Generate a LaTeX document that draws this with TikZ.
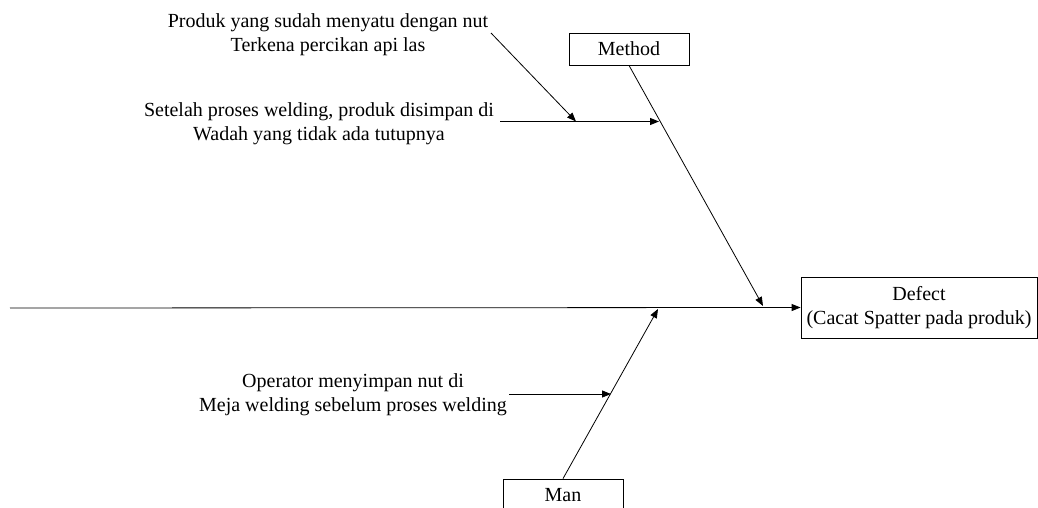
\documentclass[tikz,border=0pt]{standalone}
\usepackage{fontspec}
\setmainfont{Liberation Serif}
\usetikzlibrary{arrows.meta,positioning,calc}

\begin{document}
\begin{tikzpicture}[
    x=1pt, y=-1pt,
    box/.style={draw, line width=0.8pt, inner sep=0pt, align=center, font=\fontsize{20}{24}\selectfont},
    txt/.style={inner sep=0pt, align=center, font=\fontsize{20}{24}\selectfont},
    arr/.style={-{Stealth[length=9pt,width=7pt,inset=0pt]}, line width=0.8pt},
    bone/.style={line width=0.8pt}
]
\useasboundingbox (0,0) rectangle (1038,508);

% effect and categories
\node[box, minimum width=236pt, minimum height=61pt] (D) at (919,307.5) {Defect\\(Cacat Spatter pada produk)};
\node[box, minimum width=120pt, minimum height=32pt] (M) at (629,49) {Method};
\node[box, minimum width=120pt, minimum height=32pt] (P) at (563,495) {Man};

% causes
\node[txt] (C1) at (328,35) {Produk yang sudah menyatu dengan nut\\Terkena percikan api las};
\node[txt] (C2) at (319,124) {Setelah proses welding, produk disimpan di\\Wadah yang tidak ada tutupnya};
\node[txt] (C3) at (353,395) {Operator menyimpan nut di\\Meja welding sebelum proses welding};

% bone points
\coordinate (s0) at (10,308);
\coordinate (mt) at (763,306);
\coordinate (pt) at (658,309);
\coordinate (m1) at (659,121.5);
\coordinate (m0) at (500,121.5);
\coordinate (m2) at (576,121.5);
\coordinate (d0) at (491,33);
\coordinate (p1) at (611,394);
\coordinate (p0) at (509,394);

\draw[arr] (s0) -- (D.west);
\draw[arr] (M.south) -- (mt);
\draw[arr] (P.north) -- (pt);
\draw[arr] (m0) -- (m1);
\draw[arr] (d0) -- (m2);
\draw[arr] (p0) -- (p1);
\end{tikzpicture}
\end{document}
